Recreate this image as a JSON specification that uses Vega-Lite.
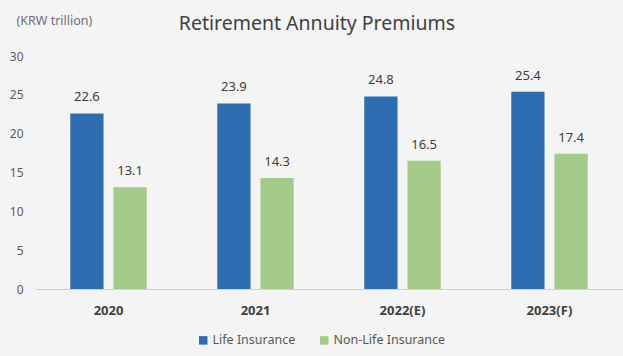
{
  "$schema": "https://vega.github.io/schema/vega-lite/v6.json",
  "autosize": {"type": "none"},
  "width": 588,
  "height": 233,
  "padding": {"left": 35, "top": 56, "right": 0, "bottom": 67},
  "background": "#f4f4f4",
  "config": {
    "font": "Noto Sans",
    "view": {"stroke": null},
    "title": {"font": "Noto Sans", "fontSize": 19.5, "fontWeight": "normal", "color": "#404040"}
  },
  "title": {"text": "Retirement Annuity Premiums", "dx": -12, "offset": -20},
  "data": {
    "values": [
      {"year": "2020", "type": "Life Insurance", "value": 22.6},
      {"year": "2020", "type": "Non-Life Insurance", "value": 13.1},
      {"year": "2021", "type": "Life Insurance", "value": 23.9},
      {"year": "2021", "type": "Non-Life Insurance", "value": 14.3},
      {"year": "2022(E)", "type": "Life Insurance", "value": 24.8},
      {"year": "2022(E)", "type": "Non-Life Insurance", "value": 16.5},
      {"year": "2023(F)", "type": "Life Insurance", "value": 25.4},
      {"year": "2023(F)", "type": "Non-Life Insurance", "value": 17.4}
    ]
  },
  "encoding": {
    "x": {
      "field": "year", "type": "nominal", "sort": null,
      "scale": {"paddingInner": 0.48, "paddingOuter": 0.24},
      "axis": {
        "title": null, "labelAngle": 0, "labelFontWeight": "bold", "labelFontSize": 13,
        "labelColor": "#404040", "labelPadding": 15, "ticks": false,
        "domainColor": "#d0d0d0", "domainWidth": 1
      }
    },
    "xOffset": {
      "field": "type", "type": "nominal",
      "scale": {"paddingInner": 0.23, "paddingOuter": 0}
    },
    "y": {
      "field": "value", "type": "quantitative",
      "scale": {"domain": [0, 30]},
      "axis": {
        "values": [0, 5, 10, 15, 20, 25, 30], "grid": false, "domain": false, "ticks": false,
        "labelFontSize": 12, "labelColor": "#595959", "labelPadding": 12,
        "title": "(KRW trillion)", "titleAngle": 0, "titleAlign": "left", "titleBaseline": "middle",
        "titleX": -19, "titleY": -36, "titleFontSize": 12.5, "titleFontWeight": "normal",
        "titleColor": "#6e6e7e"
      }
    }
  },
  "layer": [
    {
      "mark": {"type": "bar"},
      "encoding": {
        "color": {
          "field": "type", "type": "nominal",
          "scale": {"domain": ["Life Insurance", "Non-Life Insurance"], "range": ["#2e6eb0", "#a3ca88"]},
          "legend": {
            "title": null, "orient": "none", "legendX": 162, "legendY": 278, "direction": "horizontal",
            "symbolType": "square", "symbolSize": 72, "symbolStrokeWidth": 0,
            "labelFontSize": 12.5, "labelColor": "#595959", "columnPadding": 22,
            "labelOffset": 3
          }
        }
      }
    },
    {
      "mark": {"type": "text", "baseline": "alphabetic", "dy": -12, "fontSize": 13, "color": "#404040"},
      "encoding": {
        "text": {"field": "value", "type": "quantitative", "format": ".1f"}
      }
    }
  ]
}
